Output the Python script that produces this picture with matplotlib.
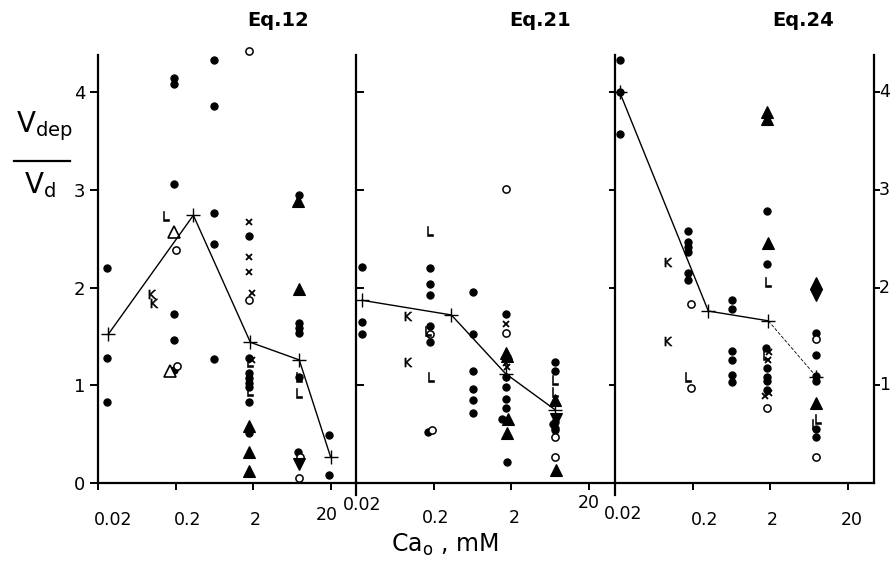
import numpy as np
import matplotlib
matplotlib.use("Agg")
import matplotlib.pyplot as plt
from matplotlib.lines import Line2D
from matplotlib.transforms import offset_copy

plt.rcParams['font.family'] = ['DejaVu Sans']

# ---------------- data ----------------
panel_titles = ["Eq.12", "Eq.21", "Eq.24"]
x_ticks = [0.02, 0.2, 2, 20]
x_ticklabels = ["0.02", "0.2", "2", "20"]
y_ticks = [0, 1, 2, 3, 4]

# Panel 1 (Eq.12)
p1_filled = [(0.026, 2.20), (0.026, 1.28), (0.026, 0.83),
             (0.19, 4.15), (0.19, 4.08), (0.19, 3.06), (0.19, 1.73), (0.19, 1.46), (0.19, 1.16),
             (0.62, 4.33), (0.62, 3.86), (0.62, 2.76), (0.62, 2.45), (0.62, 1.27),
             (1.8, 2.53), (1.8, 1.28), (1.8, 1.13), (1.8, 1.07), (1.8, 1.02), (1.8, 0.98),
             (1.8, 0.83), (1.8, 0.51),
             (7.9, 2.95), (7.8, 1.64), (7.8, 1.59), (7.8, 1.54), (7.9, 1.09), (7.7, 0.32),
             (19, 0.49), (19, 0.08)]
p1_open = [(0.21, 1.20), (0.20, 2.38), (1.8, 4.42), (1.75, 1.87), (8.0, 0.27), (7.8, 0.05)]
p1_cross = [(1.8, 2.67), (1.8, 2.31), (1.8, 2.16), (1.95, 1.94), (1.95, 1.26)]
p1_tri = [(1.8, 0.58), (1.8, 0.32), (1.8, 0.12), (7.6, 2.89), (7.8, 1.99)]
p1_opentri = [(0.17, 1.15), (0.19, 2.57)]
p1_tridown = [(7.8, 0.19)]
p1_L = [(0.15, 2.73), (1.85, 1.24), (1.85, 0.94), (7.9, 1.09), (7.8, 0.92)]
p1_K = [(0.10, 1.93), (0.105, 1.84)]
p1_mean = [(0.027, 1.52), (0.34, 2.74), (1.85, 1.44), (7.9, 1.26), (20, 0.27)]

# Panel 2 (Eq.21)
p2_filled = [(0.024, 2.21), (0.024, 1.65), (0.024, 1.52),
             (0.18, 2.20), (0.18, 2.04), (0.18, 1.92), (0.18, 1.61), (0.18, 1.44), (0.17, 0.52),
             (0.64, 1.95), (0.64, 1.52), (0.64, 1.15), (0.64, 0.96), (0.64, 0.85), (0.64, 0.72),
             (1.7, 1.73), (1.7, 1.09), (1.7, 0.98), (1.7, 0.86), (1.7, 0.77), (1.55, 0.66),
             (1.8, 0.21),
             (7.4, 1.24), (7.4, 1.15), (7.4, 0.62), (7.0, 0.60), (7.4, 0.56), (7.4, 0.54)]
p2_open = [(0.19, 0.54), (0.18, 1.52), (1.7, 3.01), (1.7, 1.54), (7.4, 0.47), (7.4, 0.27)]
p2_cross = [(1.7, 1.63), (1.85, 1.28), (1.7, 1.23), (1.8, 1.19)]
p2_tri = [(1.7, 1.33), (1.75, 1.30), (1.85, 0.66), (1.75, 0.51), (7.5, 0.85), (7.6, 0.13)]
p2_opentri = []
p2_tridown = [(7.6, 0.65)]
p2_L = [(0.18, 2.58), (0.185, 1.08), (0.17, 1.56), (7.5, 1.05), (7.4, 0.93)]
p2_K = [(0.095, 1.71), (0.095, 1.24)]
p2_mean = [(0.024, 1.87), (0.34, 1.72), (1.7, 1.12), (7.4, 0.75)]

# Panel 3 (Eq.24)
p3_filled = [(0.023, 4.33), (0.023, 3.57), (0.023, 4.0),
             (0.175, 2.58), (0.175, 2.47), (0.175, 2.42), (0.175, 2.36), (0.175, 2.15), (0.175, 2.08),
             (0.64, 1.87), (0.64, 1.78), (0.64, 1.35), (0.64, 1.26), (0.64, 1.11), (0.64, 1.03),
             (1.85, 2.78), (1.85, 2.24), (1.8, 1.38), (1.85, 1.18), (1.85, 1.09), (1.85, 1.04),
             (1.85, 0.95),
             (7.9, 1.54), (7.9, 1.31), (7.9, 1.10), (7.9, 1.04), (7.9, 0.55), (7.9, 0.47)]
p3_open = [(0.19, 1.83), (0.19, 0.97), (1.85, 0.77), (7.9, 1.47), (7.9, 0.27)]
p3_cross = [(1.95, 1.34), (1.9, 1.26), (1.7, 0.89), (1.95, 0.92)]
p3_tri = [(1.85, 3.80), (1.85, 3.73), (1.9, 2.46), (7.9, 2.05), (7.9, 0.82)]
p3_opentri = []
p3_tridown = [(7.9, 1.92)]
p3_L = [(0.175, 1.08), (1.9, 2.06), (1.75, 1.31), (8.3, 0.66), (7.6, 0.60)]
p3_K = [(0.096, 2.26), (0.096, 1.45)]
p3_mean = [(0.023, 4.0), (0.32, 1.76), (1.9, 1.66), (7.9, 1.09)]

panels = [
    dict(filled=p1_filled, open=p1_open, cross=p1_cross, tri=p1_tri, opentri=p1_opentri,
         tridown=p1_tridown, L=p1_L, K=p1_K, mean=p1_mean),
    dict(filled=p2_filled, open=p2_open, cross=p2_cross, tri=p2_tri, opentri=p2_opentri,
         tridown=p2_tridown, L=p2_L, K=p2_K, mean=p2_mean),
    dict(filled=p3_filled, open=p3_open, cross=p3_cross, tri=p3_tri, opentri=p3_opentri,
         tridown=p3_tridown, L=p3_L, K=p3_K, mean=p3_mean),
]

# ---------------- layout (pixels) ----------------
W, H = 894, 566
fig = plt.figure(figsize=(W / 100, H / 100), dpi=100)

lefts = [98, 356, 615]
width_px = 259
bottom_px, top_px = 483, 55
decade_px = 77.5
unit_px = 97.7

# tick-label offsets (dx, dy) in pixels relative to the tick position on the axis line
label_offsets = [
    [(15, -37), (12, -37), (2, -37), (-4, -32)],
    [(6, -22), (2, -35), (3, -35), (0, -20)],
    [(8, -31), (12, -37), (2, -37), (4, -37)],
]
title_x_px = [278, 540, 803]

styles = {
    'filled': dict(marker='o', ms=5.2, mfc='black', mec='black', mew=0.8),
    'open': dict(marker='o', ms=5.2, mfc='white', mec='black', mew=1.1),
    'cross': dict(marker='x', ms=5, mfc='none', mec='black', mew=1.3),
    'tri': dict(marker='^', ms=8, mfc='black', mec='black', mew=0.8),
    'opentri': dict(marker='^', ms=8, mfc='white', mec='black', mew=1.2),
    'tridown': dict(marker='v', ms=8, mfc='black', mec='black', mew=0.8),
    'L': dict(marker=r'$\mathsf{L}$', ms=6.5, mfc='black', mec='black', mew=0.4),
    'K': dict(marker=r'$\mathsf{K}$', ms=6.5, mfc='black', mec='black', mew=0.4),
}

axes = []
for i, lp in enumerate(lefts):
    ax = fig.add_axes([lp / W, (H - bottom_px) / H, width_px / W, (bottom_px - top_px) / H])
    ax.set_xscale('log')
    ax.set_xlim(0.02, 0.02 * 10 ** (width_px / decade_px))
    ax.set_ylim(0, (bottom_px - top_px) / unit_px)
    ax.patch.set_alpha(0)
    for s in ['top', 'right']:
        ax.spines[s].set_visible(False)
    for s in ['left', 'bottom']:
        ax.spines[s].set_linewidth(1.6)
    ax.xaxis.set_minor_locator(matplotlib.ticker.NullLocator())
    ax.set_xticks(x_ticks)
    ax.set_xticklabels([])
    ax.tick_params(axis='x', direction='out', length=5, width=1.4)
    axes.append(ax)

    # longer spine extension below the axis for panels 2 and 3
    if i > 0:
        ext = Line2D([0, 0], [0, -12 / (bottom_px - top_px)], transform=ax.transAxes,
                     color='black', lw=1.6, clip_on=False)
        ax.add_line(ext)

    d = panels[i]
    for key in ['filled', 'open', 'cross', 'tri', 'opentri', 'tridown', 'L', 'K']:
        pts = d[key]
        if not pts:
            continue
        xs = [p[0] for p in pts]
        ys = [p[1] for p in pts]
        ax.plot(xs, ys, ls='none', clip_on=False, zorder=3, **styles[key])

    mx = [p[0] for p in d['mean']]
    my = [p[1] for p in d['mean']]
    if i == 2:
        ax.plot(mx[:-1], my[:-1], color='black', lw=1.0, zorder=4)
        ax.plot(mx[-2:], my[-2:], color='black', lw=0.6, ls=(0, (4, 2)), zorder=4)
    else:
        ax.plot(mx, my, color='black', lw=1.0, zorder=4)
    ax.plot(mx, my, ls='none', marker='+', ms=10, mew=1.0, color='black', zorder=5)

    # x tick labels
    for (xv, lab), (dx, dy) in zip(zip(x_ticks, x_ticklabels), label_offsets[i]):
        tr = offset_copy(ax.get_xaxis_transform(), fig=fig, x=dx, y=dy, units='dots')
        ax.text(xv, 0, lab, transform=tr, ha='center', va='center', fontsize=12.5)

    fig.text(title_x_px[i] / W, 1 - 21 / H, panel_titles[i], ha='center', va='center',
             fontsize=14, fontweight='bold')

# y axes
ax1, ax2, ax3 = axes
ax1.set_yticks(y_ticks)
ax1.set_yticklabels([str(v) for v in y_ticks], fontsize=13)
ax1.tick_params(axis='y', direction='out', length=6, width=1.4, pad=3)

ax2.set_yticks(y_ticks[1:])
ax2.set_yticklabels([])
ax2.tick_params(axis='y', direction='in', length=6, width=1.4)

ax3.spines['right'].set_visible(True)
ax3.spines['right'].set_linewidth(1.6)
ax3.set_yticks(y_ticks[1:])
ax3.set_yticklabels([])
ax3.tick_params(axis='y', which='both', left=True, right=True, labelleft=False,
                labelright=False, direction='out', length=4, width=1.4)

# right-hand value labels
for yv in y_ticks[1:]:
    tr = offset_copy(ax3.get_yaxis_transform(), fig=fig, x=5, y=0, units='dots')
    ax3.text(1, yv, str(yv), transform=tr, ha='left', va='center', fontsize=12.5)

# y label as fraction
fig.text(44 / W, 1 - 126 / H, r'$\mathsf{V_{dep}}$', ha='center', va='center', fontsize=20)
fig.add_artist(Line2D([14 / W, 70 / W], [1 - 161 / H, 1 - 161 / H], color='black', lw=1.6))
fig.text(40 / W, 1 - 185 / H, r'$\mathsf{V_d}$', ha='center', va='center', fontsize=20)

# x label
fig.text(445 / W, 1 - 545 / H, r'$\mathsf{Ca_o}$ , mM', ha='center', va='center', fontsize=17)

fig.savefig('out.png', dpi=100)
